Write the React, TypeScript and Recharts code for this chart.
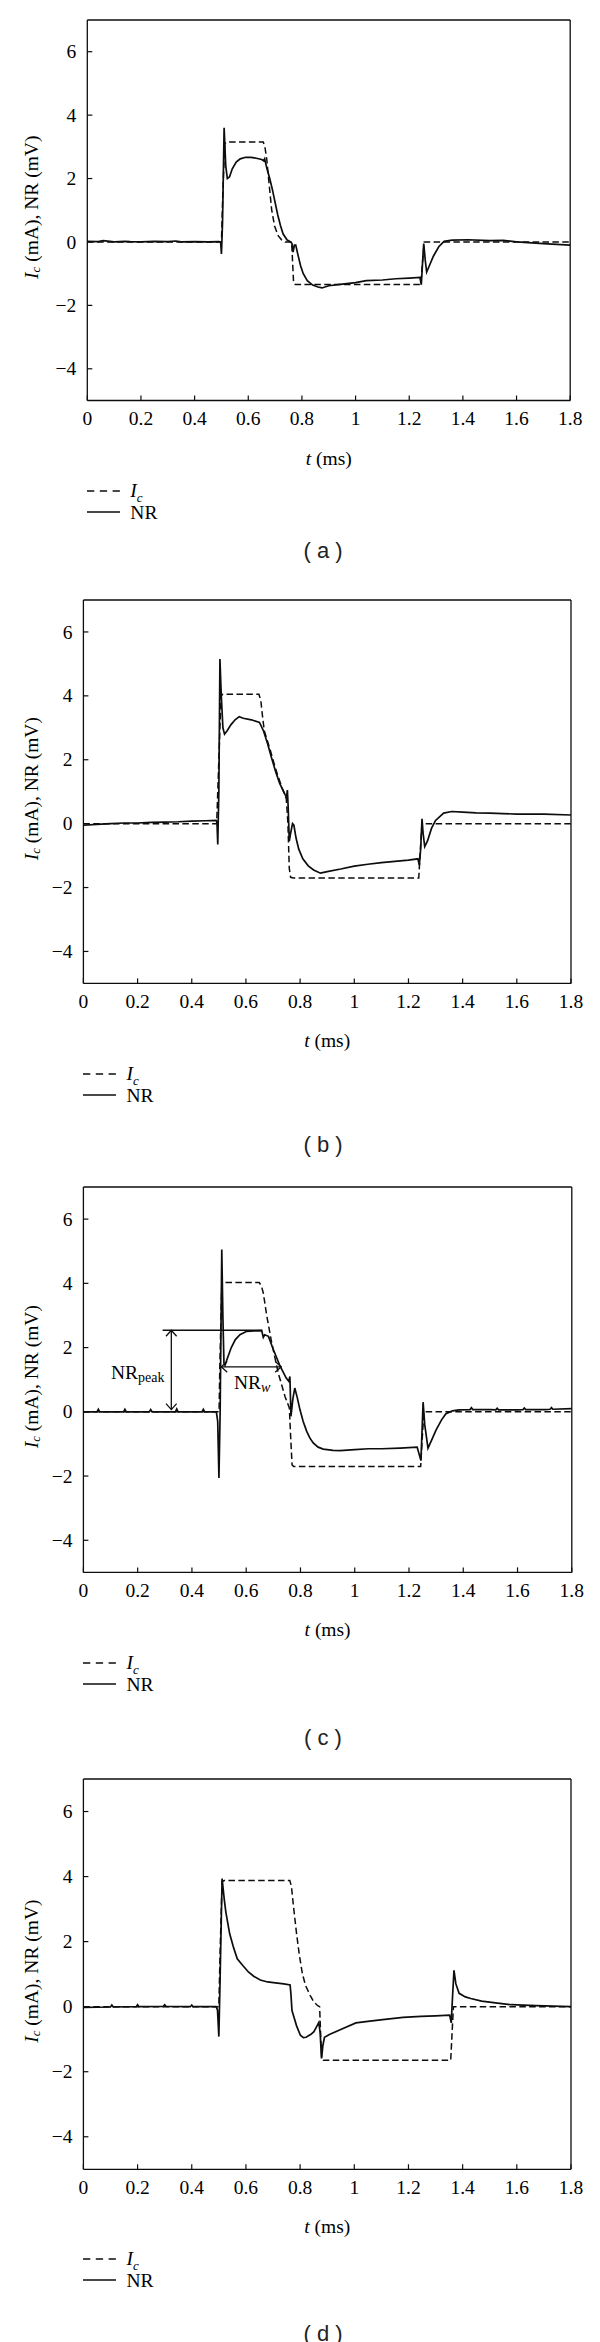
import React from 'react';
import { LineChart, Line, XAxis, YAxis, ReferenceLine, ReferenceDot, Legend, Label } from 'recharts';

const SERIF = "'Liberation Serif', 'Times New Roman', serif";
const SANS = "'Liberation Sans', Arial, sans-serif";
const FS = 19.5;

const T_TICKS = [0, 0.2, 0.4, 0.6, 0.8, 1, 1.2, 1.4, 1.6, 1.8];
const Y_TICKS = [-4, -2, 0, 2, 4, 6];
const T_DOMAIN: [number, number] = [0, 1.8];
const Y_DOMAIN: [number, number] = [-5, 7];

// ---------- panel (a) ----------
const nrA: [number, number][] = [
  [0, 0.02], [0.04, 0.01], [0.06, 0.04], [0.1, 0.0], [0.14, 0.02], [0.16, 0.01], [0.2, 0.0], [0.25, 0.02],
  [0.3, 0.01], [0.33, 0.03], [0.35, 0.0], [0.4, 0.01], [0.45, 0.0], [0.49, 0.01], [0.497, 0.0], [0.5, -0.38],
  [0.504, 0.6], [0.51, 3.6], [0.516, 2.4], [0.522, 2.0], [0.53, 2.05], [0.54, 2.3], [0.555, 2.52], [0.57, 2.62],
  [0.59, 2.67], [0.61, 2.67], [0.63, 2.64], [0.65, 2.6], [0.657, 2.56], [0.661, 2.62], [0.67, 2.3], [0.68, 2.0],
  [0.69, 1.65], [0.7, 1.25], [0.71, 0.85], [0.72, 0.52], [0.73, 0.25], [0.745, 0.06], [0.758, 0.0], [0.763, -0.05],
  [0.767, -0.32], [0.772, -0.1], [0.777, -0.1], [0.785, -0.4], [0.795, -0.75], [0.805, -1.0], [0.82, -1.22],
  [0.84, -1.36], [0.86, -1.42], [0.875, -1.45], [0.9, -1.38], [0.95, -1.33], [1.0, -1.28], [1.04, -1.22],
  [1.1, -1.2], [1.15, -1.16], [1.2, -1.14], [1.24, -1.12], [1.245, -1.35], [1.25, -0.6], [1.254, -0.05],
  [1.26, -0.6], [1.265, -0.95], [1.275, -0.75], [1.29, -0.45], [1.31, -0.15], [1.33, 0.02], [1.36, 0.06],
  [1.42, 0.07], [1.5, 0.04], [1.55, 0.05], [1.6, 0.0], [1.7, -0.05], [1.8, -0.1],
];
const icA: [number, number][] = [
  [0, 0], [0.5, 0], [0.505, 1.5], [0.512, 3.1], [0.518, 3.15], [0.656, 3.15], [0.662, 3.0], [0.669, 2.6],
  [0.678, 1.8], [0.687, 1.03], [0.698, 0.5], [0.712, 0.19], [0.725, 0.06], [0.737, 0], [0.762, 0],
  [0.765, -0.6], [0.769, -1.3], [0.775, -1.34], [1.243, -1.34], [1.25, -0.6], [1.256, 0], [1.8, 0],
];

// ---------- panel (b) ----------
const nrB: [number, number][] = [
  [0, -0.05], [0.05, -0.02], [0.1, 0.0], [0.15, 0.02], [0.2, 0.02], [0.25, 0.04], [0.3, 0.05], [0.35, 0.06],
  [0.4, 0.08], [0.45, 0.09], [0.49, 0.1], [0.493, 0.05], [0.496, -0.65], [0.5, 1.0], [0.504, 5.15],
  [0.509, 4.0], [0.515, 3.0], [0.521, 2.8], [0.53, 2.9], [0.545, 3.1], [0.56, 3.25], [0.575, 3.35],
  [0.59, 3.3], [0.62, 3.25], [0.65, 3.17], [0.665, 2.9], [0.68, 2.5], [0.695, 2.05], [0.71, 1.62],
  [0.725, 1.25], [0.745, 0.9], [0.75, 0.82], [0.753, 1.05], [0.756, 0.5], [0.76, -0.55], [0.765, -0.3],
  [0.772, 0.0], [0.777, -0.05], [0.785, -0.45], [0.795, -0.8], [0.81, -1.1], [0.83, -1.32], [0.85, -1.45],
  [0.875, -1.55], [0.9, -1.5], [0.95, -1.42], [1.0, -1.33], [1.05, -1.27], [1.1, -1.22], [1.15, -1.18],
  [1.2, -1.14], [1.235, -1.1], [1.24, -1.3], [1.245, -0.8], [1.25, 0.15], [1.254, -0.3], [1.26, -0.72],
  [1.27, -0.55], [1.285, -0.15], [1.3, 0.1], [1.33, 0.33], [1.36, 0.38], [1.4, 0.36], [1.45, 0.34],
  [1.5, 0.33], [1.6, 0.3], [1.7, 0.3], [1.8, 0.27],
];
const icB: [number, number][] = [
  [0, 0], [0.492, 0], [0.5, 2.0], [0.508, 4.0], [0.515, 4.05], [0.648, 4.05], [0.655, 3.85], [0.662, 3.3],
  [0.668, 2.9], [0.69, 2.3], [0.71, 1.7], [0.73, 1.2], [0.749, 0.78], [0.755, 0.0], [0.76, -1.4],
  [0.765, -1.68], [0.775, -1.7], [1.238, -1.7], [1.244, -0.8], [1.25, 0], [1.8, 0],
];

// ---------- panel (c) ----------
const nrC: [number, number][] = [
  [0, 0.0], [0.05, 0.0], [0.055, 0.08], [0.06, 0.0], [0.148, 0.0], [0.153, 0.08], [0.158, 0.0], [0.243, 0.0],
  [0.248, 0.07], [0.253, 0.0], [0.339, 0.0], [0.344, 0.09], [0.349, 0.0], [0.437, 0.0], [0.442, 0.08],
  [0.447, 0.0], [0.49, 0.0], [0.495, -0.3], [0.4995, -2.06], [0.504, 0.0], [0.51, 5.05], [0.514, 3.0],
  [0.518, 1.52], [0.522, 1.45], [0.53, 1.65], [0.545, 2.0], [0.56, 2.25], [0.577, 2.4], [0.6, 2.5],
  [0.63, 2.52], [0.657, 2.53], [0.663, 2.32], [0.668, 2.4], [0.682, 2.35], [0.7, 1.94], [0.725, 1.42],
  [0.747, 1.06], [0.757, 0.95], [0.761, 1.1], [0.765, -0.14], [0.772, 0.4], [0.779, 0.74], [0.788, 0.45],
  [0.798, 0.07], [0.81, -0.3], [0.823, -0.61], [0.835, -0.82], [0.847, -0.97], [0.865, -1.1], [0.884, -1.16],
  [0.92, -1.2], [0.946, -1.21], [1.0, -1.18], [1.05, -1.15], [1.1, -1.15], [1.167, -1.13], [1.23, -1.1],
  [1.244, -1.52], [1.252, 0.3], [1.258, -0.4], [1.27, -1.13], [1.285, -0.85], [1.3, -0.56], [1.32, -0.25],
  [1.336, -0.06], [1.36, 0.03], [1.385, 0.06], [1.425, 0.07], [1.43, 0.13], [1.435, 0.07], [1.5, 0.07],
  [1.52, 0.06], [1.525, 0.11], [1.53, 0.06], [1.6, 0.06], [1.62, 0.07], [1.625, 0.12], [1.63, 0.07],
  [1.7, 0.07], [1.72, 0.08], [1.725, 0.13], [1.73, 0.08], [1.8, 0.1],
];
const icC: [number, number][] = [
  [0, 0], [0.5, 0], [0.503, 1.5], [0.51, 3.95], [0.52, 4.03], [0.648, 4.03], [0.656, 3.92], [0.663, 3.7],
  [0.676, 2.98], [0.694, 2.15], [0.718, 1.21], [0.743, 0.48], [0.759, 0.12], [0.764, -0.8], [0.769, -1.65],
  [0.775, -1.7], [1.243, -1.7], [1.249, -0.8], [1.255, 0], [1.8, 0],
];

// ---------- panel (d) ----------
const nrD: [number, number][] = [
  [0, -0.02], [0.1, -0.01], [0.105, 0.05], [0.11, -0.01], [0.195, 0.0], [0.2, 0.06], [0.205, 0.0],
  [0.295, 0.01], [0.3, 0.06], [0.305, 0.01], [0.395, 0.0], [0.4, 0.05], [0.405, 0.0], [0.49, 0.0],
  [0.495, -0.1], [0.5, -0.92], [0.505, 1.0], [0.512, 3.94], [0.52, 3.3], [0.526, 2.9], [0.54, 2.24],
  [0.555, 1.8], [0.568, 1.47], [0.59, 1.25], [0.61, 1.06], [0.63, 0.93], [0.653, 0.82], [0.68, 0.76],
  [0.709, 0.73], [0.74, 0.7], [0.763, 0.67], [0.766, 0.4], [0.77, -0.12], [0.787, -0.59], [0.801, -0.88],
  [0.812, -0.95], [0.822, -0.94], [0.84, -0.85], [0.851, -0.77], [0.862, -0.6], [0.869, -0.49],
  [0.874, -0.8], [0.879, -1.59], [0.884, -1.2], [0.89, -0.94], [0.91, -0.85], [0.95, -0.7], [1.006, -0.5],
  [1.05, -0.45], [1.105, -0.4], [1.18, -0.33], [1.246, -0.3], [1.3, -0.28], [1.352, -0.26], [1.358, -0.5],
  [1.362, 0.2], [1.368, 1.12], [1.375, 0.7], [1.387, 0.41], [1.41, 0.3], [1.43, 0.25], [1.47, 0.17],
  [1.529, 0.11], [1.58, 0.06], [1.67, 0.03], [1.8, 0.0],
];
const icD: [number, number][] = [
  [0, 0], [0.5, 0], [0.505, 1.8], [0.512, 3.85], [0.52, 3.88], [0.762, 3.88], [0.768, 3.7], [0.773, 3.29],
  [0.78, 2.75], [0.787, 2.24], [0.797, 1.6], [0.808, 1.03], [0.82, 0.65], [0.837, 0.35], [0.85, 0.15],
  [0.865, 0.03], [0.872, 0.0], [0.876, -0.9], [0.88, -1.6], [0.886, -1.65], [1.356, -1.65], [1.361, -0.8],
  [1.366, 0], [1.8, 0],
];

// ---------- annotation of panel (c) ----------
const PEAK_LINE = [{ x: 0.292, y: 2.54 }, { x: 0.659, y: 2.54 }];
const PEAK_ARROW = [{ x: 0.324, y: 2.54 }, { x: 0.324, y: 0.07 }];
const WIDTH_ARROW = [{ x: 0.508, y: 1.4 }, { x: 0.729, y: 1.4 }];
const PEAK_LABEL = { x: 0.2, y: 1.25 };
const WIDTH_LABEL = { x: 0.622, y: 0.93 };

const toPts = (arr: [number, number][]) => arr.map(([t, v]) => ({ t, v }));
const fmtY = (v: number) => (v < 0 ? `\u2212${Math.abs(v)}` : `${v}`);

type Lay = { left: number; right: number; top: number; bottom: number; caption: number };

const LAYOUTS: Lay[] = [
  { left: 87.3, right: 570.2, top: 20.3, bottom: 400.8, caption: 551 },
  { left: 83.4, right: 571, top: 600.2, bottom: 983.6, caption: 1145 },
  { left: 83.4, right: 571.8, top: 1187.2, bottom: 1572.6, caption: 1738 },
  { left: 83.4, right: 571, top: 1778.7, bottom: 2169, caption: 2334 },
];

const INK = '#0d0d0d';

const DoubleArrow = (p: any) => {
  const { x1, y1, x2, y2 } = p;
  const dx = x2 - x1;
  const dy = y2 - y1;
  const len = Math.hypot(dx, dy) || 1;
  const ux = dx / len;
  const uy = dy / len;
  const px = -uy;
  const py = ux;
  const L = 6;
  const W = 5.3;
  const head = (x: number, y: number, s: number) =>
    `${x + s * ux * L + px * W},${y + s * uy * L + py * W} ${x},${y} ${x + s * ux * L - px * W},${y + s * uy * L - py * W}`;
  return (
    <g>
      <line x1={x1} y1={y1} x2={x2} y2={y2} stroke={INK} strokeWidth={1.3} />
      <polyline points={head(x1, y1, 1)} fill="none" stroke={INK} strokeWidth={1.3} />
      <polyline points={head(x2, y2, -1)} fill="none" stroke={INK} strokeWidth={1.3} />
    </g>
  );
};

const XTick = (p: any) => (
  <text x={p.x} y={p.y} dy="0.7em" textAnchor="middle" fontFamily={SERIF} fontSize={FS} fill="#000">
    {`${p.payload.value}`}
  </text>
);
const YTick = (p: any) => (
  <text x={p.x} y={p.y} dy="0.34em" textAnchor="end" fontFamily={SERIF} fontSize={FS} fill="#000">
    {fmtY(p.payload.value)}
  </text>
);

const LegendBox = () => (
  <div style={{ fontFamily: SERIF, fontSize: FS, color: '#000', lineHeight: '21px' }}>
    <div style={{ display: 'flex', alignItems: 'center', height: 21 }}>
      <svg width={34} height={6} style={{ display: 'block' }}>
        <line x1={0} y1={3} x2={33} y2={3} stroke={INK} strokeWidth={1.4} strokeDasharray="7.3 5.5" />
      </svg>
      <span style={{ marginLeft: 9, whiteSpace: 'nowrap' }}>
        <i>I</i>
        <i style={{ fontSize: 13, position: 'relative', top: 5 }}>c</i>
      </span>
    </div>
    <div style={{ display: 'flex', alignItems: 'center', height: 21 }}>
      <svg width={34} height={6} style={{ display: 'block' }}>
        <line x1={0} y1={3} x2={33} y2={3} stroke={INK} strokeWidth={1.5} />
      </svg>
      <span style={{ marginLeft: 9, whiteSpace: 'nowrap' }}>NR</span>
    </div>
  </div>
);

const axisLine = { stroke: INK, strokeWidth: 1.3 };
const tickLine = { stroke: INK, strokeWidth: 1.2 };

function Panel({ nr, ic, lay, letter, annotate }: { nr: [number, number][]; ic: [number, number][]; lay: Lay; letter: string; annotate?: boolean }) {
  const plotH = lay.bottom - lay.top;
  const chartTop = lay.top - 20;
  const H = 20 + plotH + 130;
  const cx = (lay.left + lay.right) / 2;
  const xTitle = () => (
    <text x={cx} y={20 + plotH + 57} textAnchor="middle" dominantBaseline="central" fontFamily={SERIF} fontSize={FS} fill="#000">
      <tspan fontStyle="italic">t</tspan>
      <tspan>{' (ms)'}</tspan>
    </text>
  );
  const yc = 20 + plotH / 2 - 3;
  const yTitle = () => (
    <text x={30.6} y={yc} transform={`rotate(-90 30.6 ${yc})`} textAnchor="middle" dominantBaseline="central" fontFamily={SERIF} fontSize={FS} fill="#000">
      <tspan fontStyle="italic">I</tspan>
      <tspan fontStyle="italic" fontSize={13} dy={4}>c</tspan>
      <tspan dy={-4}>{' (mA), NR (mV)'}</tspan>
    </text>
  );
  return (
    <>
      <div style={{ position: 'absolute', left: 0, top: chartTop }}>
        <LineChart width={600} height={H} margin={{ top: 19, right: 600 - lay.right - 1, bottom: 70, left: 0 }}
          style={{ fontFamily: SERIF }}>
          <XAxis type="number" dataKey="t" domain={T_DOMAIN} ticks={T_TICKS} interval={0} height={60}
            axisLine={axisLine} tickLine={tickLine} tickSize={-5} tickMargin={16} tick={XTick}>
            <Label content={xTitle} />
          </XAxis>
          <XAxis xAxisId="top" orientation="top" type="number" dataKey="t" domain={T_DOMAIN} ticks={T_TICKS} interval={0}
            allowDataOverflow height={1} axisLine={axisLine} tickLine={tickLine} tickSize={-5} tick={false} />
          <YAxis type="number" domain={Y_DOMAIN} ticks={Y_TICKS} interval={0} width={lay.left}
            axisLine={axisLine} tickLine={tickLine} tickSize={-5} tickMargin={16} tick={YTick}>
            <Label content={yTitle} />
          </YAxis>
          <YAxis yAxisId="right" orientation="right" type="number" domain={Y_DOMAIN} ticks={Y_TICKS} interval={0}
            allowDataOverflow width={1} axisLine={axisLine} tickLine={tickLine} tickSize={-5} tick={false} />
          <Line data={toPts(ic)} dataKey="v" name="Ic" type="linear" stroke={INK} strokeWidth={1.5}
            strokeDasharray="6.5 3.4" dot={false} activeDot={false} isAnimationActive={false} />
          <Line data={toPts(nr)} dataKey="v" name="NR" type="linear" stroke={INK} strokeWidth={1.7}
            dot={false} activeDot={false} isAnimationActive={false} />
          <Line data={toPts(nr)} dataKey="v" xAxisId="top" yAxisId="right" name="frame" type="linear" stroke="none"
            strokeWidth={0} dot={false} activeDot={false} isAnimationActive={false} legendType="none" />
          {annotate && (
            <ReferenceLine segment={PEAK_LINE} stroke={INK} strokeWidth={1.3} />
          )}
          {annotate && (
            <ReferenceLine segment={PEAK_ARROW} shape={DoubleArrow} />
          )}
          {annotate && (
            <ReferenceLine segment={WIDTH_ARROW} shape={DoubleArrow} />
          )}
          {annotate && (
            <ReferenceDot x={PEAK_LABEL.x} y={PEAK_LABEL.y} r={0}
              shape={(p: any) => (
                <text x={p.cx} y={p.cy} textAnchor="middle" dominantBaseline="central" fontFamily={SERIF} fontSize={FS} fill="#000">
                  <tspan>NR</tspan>
                  <tspan fontSize={14} dy={5}>peak</tspan>
                </text>
              )} />
          )}
          {annotate && (
            <ReferenceDot x={WIDTH_LABEL.x} y={WIDTH_LABEL.y} r={0}
              shape={(p: any) => (
                <text x={p.cx} y={p.cy} textAnchor="middle" dominantBaseline="central" fontFamily={SERIF} fontSize={FS} fill="#000">
                  <tspan>NR</tspan>
                  <tspan fontSize={14} fontStyle="italic" dy={5}>w</tspan>
                </text>
              )} />
          )}
          <Legend layout="horizontal" align="center" verticalAlign="middle" content={LegendBox}
            wrapperStyle={{ left: lay.left, top: 20 + plotH + 80, width: 200, height: 42 }} />
        </LineChart>
      </div>
      <div style={{ position: 'absolute', left: 0, width: 646, top: lay.caption - 13, height: 26, lineHeight: '26px',
        textAlign: 'center', fontFamily: SANS, fontSize: 22, color: '#222', whiteSpace: 'pre' }}>
        {`( ${letter} )`}
      </div>
    </>
  );
}

export default function App() {
  return (
    <div style={{ position: 'absolute', left: 0, top: 0, width: 600, height: 2342, background: '#fff' }}>
      <Panel nr={nrA} ic={icA} lay={LAYOUTS[0]} letter="a" />
      <Panel nr={nrB} ic={icB} lay={LAYOUTS[1]} letter="b" />
      <Panel nr={nrC} ic={icC} lay={LAYOUTS[2]} letter="c" annotate />
      <Panel nr={nrD} ic={icD} lay={LAYOUTS[3]} letter="d" />
    </div>
  );
}
